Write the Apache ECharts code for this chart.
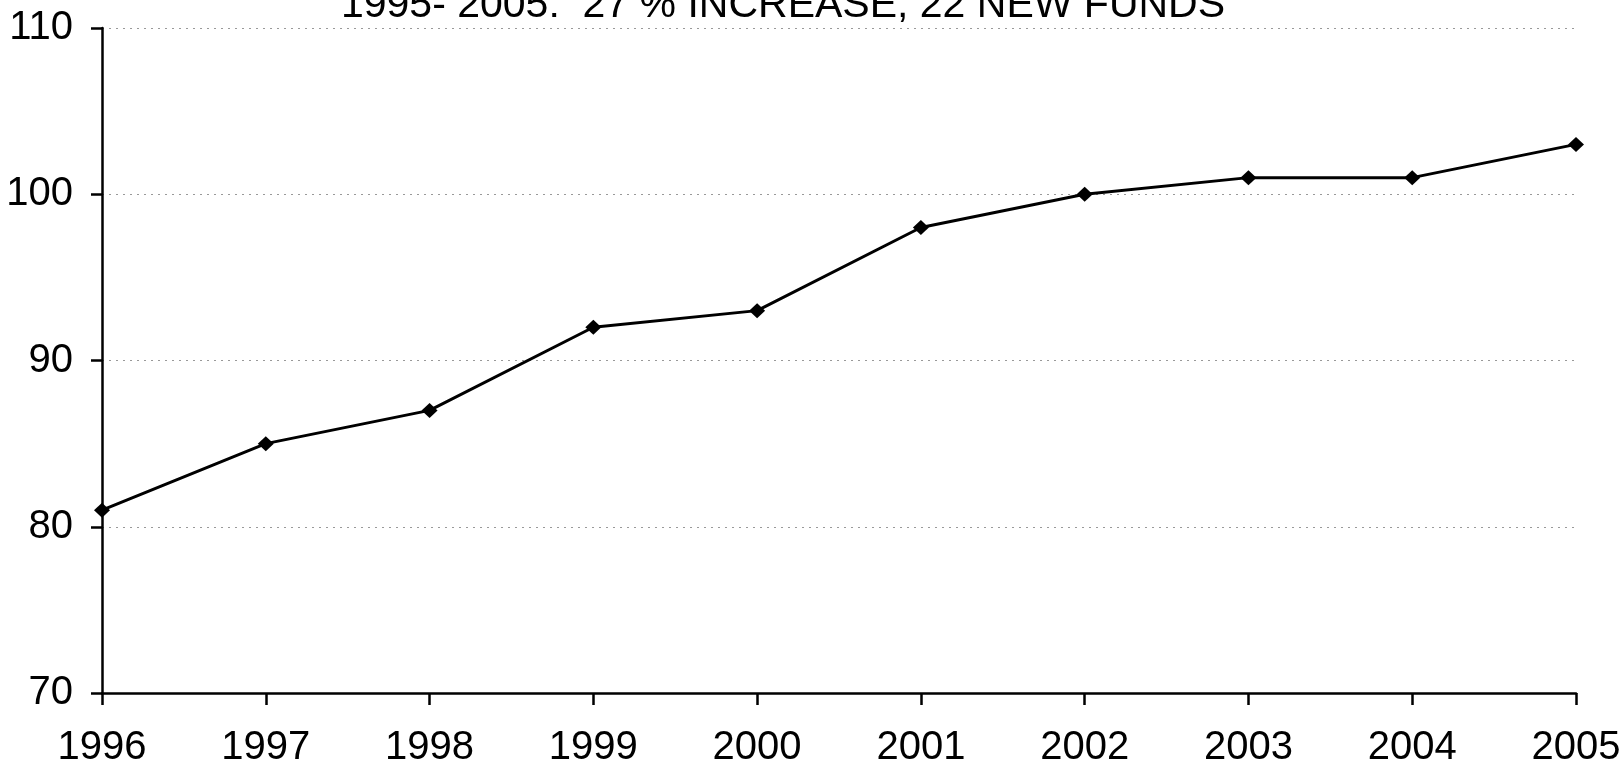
<!DOCTYPE html>
<html>
<head>
<meta charset="utf-8">
<script src="https://cdn.jsdelivr.net/npm/echarts@6/dist/echarts.min.js"></script>
<style>
html,body{margin:0;padding:0;background:#fff;}
#c{width:1624px;height:766px;}
</style>
</head>
<body>
<div id="c"></div>
<script>
const titleText = "1995- 2005:  27 % INCREASE, 22 NEW FUNDS";
const years = ["1996","1997","1998","1999","2000","2001","2002","2003","2004","2005"];
const funds = [81, 85, 87, 92, 93, 98, 100, 101, 101, 103];
const yMin = 70, yMax = 110, yStep = 10;

const chart = echarts.init(document.getElementById('c'), null, {renderer:'canvas'});
const font = '"Liberation Sans", Arial, sans-serif';
chart.setOption({
  animation: false,
  backgroundColor: '#fff',
  title: {
    text: titleText,
    left: 778, textAlign: 'center',
    top: -20,
    textStyle: {fontFamily: font, fontSize: 41, fontWeight: 'normal', color: '#000'}
  },
  grid: {left: 102, right: 48, top: 28, bottom: 73, containLabel: false, outerBoundsMode: 'none'},
  xAxis: {
    type: 'category', data: years, boundaryGap: false,
    axisLine: {lineStyle: {color: '#000', width: 2.5}},
    axisTick: {show: true, length: 12, lineStyle: {color: '#000', width: 2.5}},
    axisLabel: {color: '#000', fontFamily: font, fontSize: 40, margin: 35},
    splitLine: {show: false}
  },
  yAxis: {
    type: 'value', min: yMin, max: yMax, interval: yStep,
    axisLine: {show: true, lineStyle: {color: '#000', width: 2.5}},
    axisTick: {show: true, length: 11, lineStyle: {color: '#000', width: 2.5}},
    axisLabel: {color: '#000', fontFamily: font, fontSize: 40, margin: 29},
    splitLine: {show: true, lineStyle: {color: '#999', type: [2, 5], width: 1}}
  },
  series: [{
    type: 'line', data: funds,
    symbol: 'diamond', symbolSize: [16, 15],
    lineStyle: {color: '#000', width: 3},
    itemStyle: {color: '#000'}
  }]
});
</script>
</body>
</html>
